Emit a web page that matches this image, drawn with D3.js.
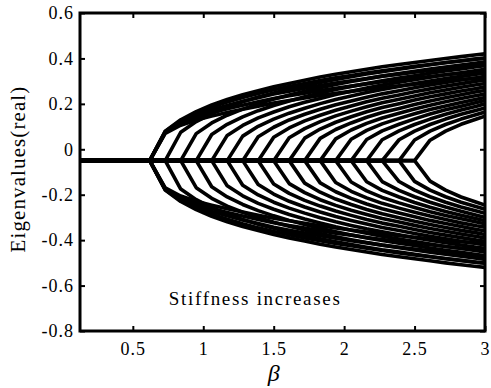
<!DOCTYPE html>
<html>
<head>
<meta charset="utf-8">
<script src="https://cdn.jsdelivr.net/npm/d3@7"></script>
<style>
  body { margin: 0; background: #fff; }
</style>
</head>
<body>
<div id="chart"></div>
<script>
// beta samples where the branches kink
const betaGrid = [0.62, 0.73, 0.84, 0.95, 1.06, 1.17, 1.28, 1.39, 1.50, 1.61, 1.72, 1.83,
  1.94, 2.05, 2.16, 2.27, 2.39, 2.50, 2.61, 2.72, 2.83, 2.94, 3.00];
const betaMin = 0.125;
const betaMax = 3;
// real part while the pair is still complex
const centerValue = -0.05;

// split of each eigenvalue pair (+/- around centerValue), mode k starts at betaGrid[k]
const mode00 = [0, 0.130, 0.180, 0.216, 0.245, 0.269, 0.290, 0.308, 0.325, 0.340, 0.354, 0.368, 0.380, 0.391, 0.402, 0.413, 0.423, 0.432, 0.441, 0.450, 0.458, 0.466, 0.470];
const mode01 = [0, 0.125, 0.172, 0.207, 0.235, 0.259, 0.280, 0.298, 0.315, 0.330, 0.344, 0.357, 0.369, 0.381, 0.392, 0.402, 0.412, 0.422, 0.431, 0.439, 0.448, 0.452];
const mode02 = [0, 0.119, 0.166, 0.200, 0.227, 0.250, 0.271, 0.289, 0.305, 0.321, 0.335, 0.348, 0.360, 0.372, 0.383, 0.393, 0.403, 0.412, 0.421, 0.430, 0.435];
const mode03 = [0, 0.115, 0.160, 0.193, 0.220, 0.243, 0.263, 0.281, 0.298, 0.313, 0.327, 0.340, 0.352, 0.364, 0.374, 0.385, 0.395, 0.404, 0.413, 0.418];
const mode04 = [0, 0.111, 0.155, 0.188, 0.214, 0.237, 0.257, 0.274, 0.291, 0.306, 0.320, 0.333, 0.345, 0.356, 0.367, 0.378, 0.387, 0.397, 0.402];
const mode05 = [0, 0.108, 0.151, 0.183, 0.209, 0.231, 0.251, 0.269, 0.285, 0.300, 0.313, 0.326, 0.339, 0.350, 0.361, 0.371, 0.381, 0.386];
const mode06 = [0, 0.105, 0.147, 0.179, 0.204, 0.226, 0.246, 0.263, 0.279, 0.294, 0.308, 0.321, 0.333, 0.344, 0.355, 0.365, 0.371];
const mode07 = [0, 0.103, 0.144, 0.175, 0.200, 0.222, 0.241, 0.259, 0.275, 0.289, 0.303, 0.316, 0.328, 0.339, 0.350, 0.355];
const mode08 = [0, 0.101, 0.141, 0.172, 0.197, 0.218, 0.237, 0.255, 0.270, 0.285, 0.299, 0.311, 0.323, 0.334, 0.340];
const mode09 = [0, 0.099, 0.139, 0.169, 0.193, 0.215, 0.234, 0.251, 0.267, 0.281, 0.294, 0.307, 0.318, 0.325];
const mode10 = [0, 0.098, 0.137, 0.166, 0.191, 0.212, 0.230, 0.247, 0.263, 0.277, 0.290, 0.303, 0.309];
const mode11 = [0, 0.096, 0.135, 0.164, 0.188, 0.209, 0.227, 0.244, 0.259, 0.274, 0.287, 0.293];
const mode12 = [0, 0.094, 0.133, 0.162, 0.186, 0.206, 0.225, 0.241, 0.256, 0.270, 0.278];
const mode13 = [0, 0.093, 0.131, 0.160, 0.184, 0.205, 0.224, 0.240, 0.256, 0.265];
const mode14 = [0, 0.092, 0.131, 0.159, 0.183, 0.204, 0.223, 0.240, 0.250];
const mode15 = [0, 0.092, 0.130, 0.159, 0.183, 0.204, 0.222, 0.232];
const mode16 = [0, 0.091, 0.130, 0.159, 0.183, 0.203, 0.214];
const mode17 = [0, 0.090, 0.130, 0.160, 0.183, 0.196];

// extra pairs leaving the first junction, packed just inside the envelope
const modeA = [0, 0.128, 0.176, 0.209, 0.236, 0.258, 0.278, 0.296, 0.312, 0.326, 0.340, 0.353, 0.365, 0.375, 0.386, 0.396, 0.406, 0.415, 0.423, 0.432, 0.440, 0.447, 0.451];
const modeB = [0, 0.126, 0.170, 0.200, 0.224, 0.243, 0.261, 0.277, 0.293, 0.306, 0.319, 0.331, 0.342, 0.352, 0.362, 0.372, 0.381, 0.389, 0.397, 0.405, 0.412, 0.419, 0.423];
const modeC = [0, 0.123, 0.163, 0.190, 0.211, 0.228, 0.244, 0.259, 0.273, 0.286, 0.297, 0.309, 0.319, 0.328, 0.338, 0.347, 0.355, 0.363, 0.370, 0.378, 0.385, 0.391, 0.395];
const modeD = [0, 0.120, 0.156, 0.179, 0.196, 0.212, 0.226, 0.240, 0.254, 0.265, 0.276, 0.287, 0.296, 0.305, 0.314, 0.322, 0.330, 0.337, 0.344, 0.351, 0.357, 0.363, 0.367];

const xTicks = [0.5, 1, 1.5, 2, 2.5, 3];
const yTicks = [-0.8, -0.6, -0.4, -0.2, 0, 0.2, 0.4, 0.6];
const yLabel = 'Eigenvalues(real)';
const xLabel = 'β';
const note = 'Stiffness increases';

// [values, index of the junction in betaGrid]
const modes = [
  [mode00, 0], [modeA, 0], [modeB, 0], [modeC, 0], [modeD, 0],
  [mode01, 1], [mode02, 2], [mode03, 3], [mode04, 4], [mode05, 5], [mode06, 6],
  [mode07, 7], [mode08, 8], [mode09, 9], [mode10, 10], [mode11, 11], [mode12, 12],
  [mode13, 13], [mode14, 14], [mode15, 15], [mode16, 16], [mode17, 17]
];

const serif = "'Liberation Serif', 'Times New Roman', Times, serif";

const margin = { top: 13, right: 6, bottom: 57, left: 80 };
const width = 491 - margin.left - margin.right;
const height = 388 - margin.top - margin.bottom;

const root = d3.select('#chart')
  .append('svg')
  .attr('width', 491)
  .attr('height', 388);

const svg = root.append('g')
  .attr('transform', 'translate(' + margin.left + ',' + margin.top + ')');

const x = d3.scaleLinear().domain([betaMin, betaMax]).range([0, width]);
const y = d3.scaleLinear().domain([-0.8, 0.6]).range([height, 0]);

svg.append('clipPath')
  .attr('id', 'plot-clip')
  .append('rect')
  .attr('width', width)
  .attr('height', height);

const line = d3.line()
  .x(d => x(d[0]))
  .y(d => y(d[1]));

// one upper and one lower branch per mode
const branches = [];
modes.forEach(([spread, k]) => {
  [1, -1].forEach(sign => {
    const pts = [[betaMin, centerValue]];
    spread.forEach((s, j) => pts.push([betaGrid[k + j], centerValue + sign * s]));
    branches.push(pts);
  });
});

svg.append('g')
  .attr('clip-path', 'url(#plot-clip)')
  .selectAll('path')
  .data(branches)
  .enter()
  .append('path')
  .attr('d', line)
  .attr('fill', 'none')
  .attr('stroke', '#000')
  .attr('stroke-width', 3.6)
  .attr('stroke-linejoin', 'round');

const fmt = d => String(d);

const styleAxis = g => {
  g.attr('font-family', null);
  g.select('.domain').remove();
  g.selectAll('.tick line').attr('stroke', '#000').attr('stroke-width', 2);
  g.selectAll('.tick text')
    .attr('fill', '#000')
    .style('font-family', serif)
    .style('font-size', '18px')
    .style('letter-spacing', '1px');
};

svg.append('g')
  .attr('transform', 'translate(0,' + height + ')')
  .call(d3.axisBottom(x).tickValues(xTicks).tickFormat(fmt).tickSizeInner(-5).tickSizeOuter(0).tickPadding(11))
  .call(styleAxis);

svg.append('g')
  .call(d3.axisTop(x).tickValues(xTicks).tickFormat('').tickSizeInner(-5).tickSizeOuter(0))
  .call(styleAxis);

svg.append('g')
  .call(d3.axisLeft(y).tickValues(yTicks).tickFormat(fmt).tickSizeInner(-5).tickSizeOuter(0).tickPadding(6))
  .call(styleAxis);

svg.append('g')
  .attr('transform', 'translate(' + width + ',0)')
  .call(d3.axisRight(y).tickValues(yTicks).tickFormat('').tickSizeInner(-5).tickSizeOuter(0))
  .call(styleAxis);

svg.append('rect')
  .attr('width', width)
  .attr('height', height)
  .attr('fill', 'none')
  .attr('stroke', '#000')
  .attr('stroke-width', 3);

svg.append('text')
  .attr('x', x(0.755))
  .attr('y', y(-0.685))
  .style('font-family', serif)
  .style('font-size', '19px')
  .style('letter-spacing', '1.7px')
  .text(note);

root.append('text')
  .attr('transform', 'translate(25,169) rotate(-90)')
  .attr('text-anchor', 'middle')
  .style('font-family', serif)
  .style('font-size', '21px')
  .style('letter-spacing', '1.1px')
  .text(yLabel);

root.append('text')
  .attr('x', margin.left + x(1.5))
  .attr('y', 381)
  .attr('text-anchor', 'middle')
  .style('font-family', serif)
  .style('font-size', '24px')
  .style('font-style', 'italic')
  .text(xLabel);
</script>
</body>
</html>
